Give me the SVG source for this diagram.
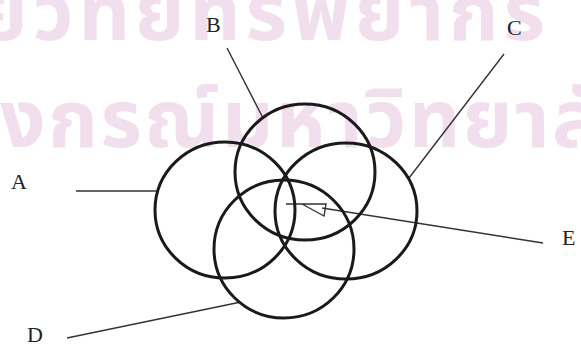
<svg xmlns="http://www.w3.org/2000/svg" width="581" height="347" viewBox="0 0 581 347">
<style>
.wm{fill:#f2dfee;font-family:"Noto Sans Thai","Noto Sans","DejaVu Sans",sans-serif;font-weight:bold;font-size:80px}
.c{fill:none;stroke:#1a1a1a;stroke-width:3}
.l{fill:none;stroke:#333;stroke-width:1.4}
.t{font-family:"Liberation Serif","Times New Roman",serif;font-size:22px;fill:#222}
</style>
<rect width="581" height="347" fill="#fff"/>
<g id="watermark">
<text class="wm" x="-22" y="40" textLength="567" lengthAdjust="spacing">ย์วิทยทรัพยากร</text>
<text class="wm" x="0" y="147" textLength="600" lengthAdjust="spacing">งกรณ์มหาวิทยาลั</text>
</g>
<g id="connectors">
<line class="l" x1="76" y1="191" x2="156" y2="191"/>
<line class="l" x1="227" y1="48" x2="263" y2="118"/>
<line class="l" x1="504" y1="54" x2="409" y2="178"/>
<line class="l" x1="67" y1="338" x2="241" y2="302"/>
<line class="l" x1="322" y1="208" x2="543" y2="243"/>
<path class="l" d="M286,204 H326 M302,204 L326,204 L324,216 Z"/>
</g>
<g id="A"><ellipse class="c" cx="225" cy="210" rx="70" ry="68"/><text class="t" x="11" y="189">A</text></g>
<g id="B"><ellipse class="c" cx="305" cy="172" rx="70" ry="68"/><text class="t" x="206" y="32">B</text></g>
<g id="C"><ellipse class="c" cx="346" cy="211" rx="71" ry="68"/><text class="t" x="507" y="35">C</text></g>
<g id="D"><ellipse class="c" cx="284" cy="249" rx="70" ry="69"/><text class="t" x="27" y="342">D</text></g>
<g id="E"><text class="t" x="562" y="245">E</text></g>
</svg>
